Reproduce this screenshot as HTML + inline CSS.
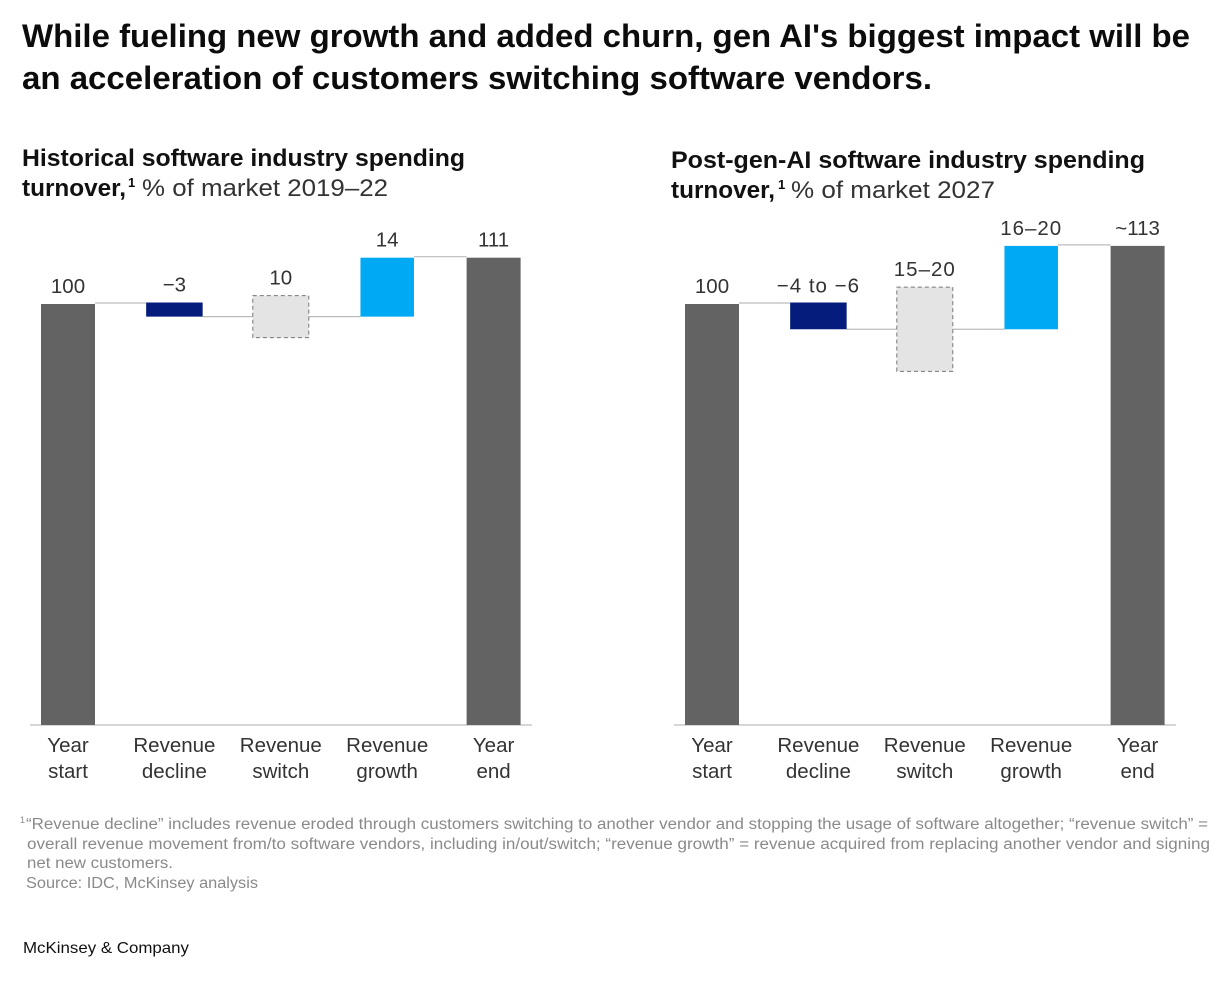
<!DOCTYPE html>
<html lang="en">
<head>
<meta charset="utf-8">
<title>Software spending turnover</title>
<style>
html,body{margin:0;padding:0;background:#fff;}
body{width:1226px;height:984px;overflow:hidden;}
svg{display:block;font-family:"Liberation Sans",sans-serif;}
.title{font-size:32px;font-weight:700;fill:#0c0c0c;}
.sub{font-size:24px;font-weight:700;fill:#111;}
.subreg{font-size:24px;fill:#333;}
.sup{font-size:13px;font-weight:700;fill:#0a0a0a;}
.val{font-size:20.5px;fill:#333;text-anchor:middle;}
.val.wide{letter-spacing:1px;}
.cat{font-size:20.5px;fill:#333;text-anchor:middle;}
.foot{font-size:15.5px;fill:#8a8a8a;}
.brand{font-size:16px;fill:#111;}
</style>
</head>
<body>
<svg id="root" width="1226" height="984" viewBox="0 0 1226 984">
<rect width="1226" height="984" fill="#fff"/>
<text class="title" x="22" y="47" textLength="1168" lengthAdjust="spacingAndGlyphs">While fueling new growth and added churn, gen AI's biggest impact will be</text>
<text class="title" x="22" y="89" textLength="910" lengthAdjust="spacingAndGlyphs">an acceleration of customers switching software vendors.</text>

<text class="sub" x="22" y="166" textLength="443" lengthAdjust="spacingAndGlyphs">Historical software industry spending</text>
<text class="sub" x="22" y="196" textLength="104" lengthAdjust="spacingAndGlyphs">turnover,</text>
<text class="sup" x="128" y="187">1</text>
<text class="subreg" x="142" y="196" textLength="246" lengthAdjust="spacingAndGlyphs">% of market 2019–22</text>

<text class="sub" x="671" y="168" textLength="474" lengthAdjust="spacingAndGlyphs">Post-gen-AI software industry spending</text>
<text class="sub" x="671" y="198" textLength="104" lengthAdjust="spacingAndGlyphs">turnover,</text>
<text class="sup" x="778" y="189">1</text>
<text class="subreg" x="791" y="198" textLength="204" lengthAdjust="spacingAndGlyphs">% of market 2027</text>

<g id="left-chart"></g>
<g id="right-chart"></g>

<text x="20" y="823" font-size="9" fill="#8a8a8a">1</text>
<text class="foot" x="26" y="829" textLength="1182" lengthAdjust="spacingAndGlyphs">“Revenue decline” includes revenue eroded through customers switching to another vendor and stopping the usage of software altogether; “revenue switch” =</text>
<text class="foot" x="27" y="849" textLength="1183" lengthAdjust="spacingAndGlyphs">overall revenue movement from/to software vendors, including in/out/switch; “revenue growth” = revenue acquired from replacing another vendor and signing</text>
<text class="foot" x="27" y="868" textLength="146" lengthAdjust="spacingAndGlyphs">net new customers.</text>
<text class="foot" x="26" y="888" textLength="232" lengthAdjust="spacingAndGlyphs">Source: IDC, McKinsey analysis</text>
<text class="brand" x="23" y="953" textLength="166" lengthAdjust="spacingAndGlyphs">McKinsey &amp; Company</text>
</svg>
<script>
var categoriesTop = ['Year', 'Revenue', 'Revenue', 'Revenue', 'Year'];
var categoriesBottom = ['start', 'decline', 'switch', 'growth', 'end'];
var leftValues = [100, -3, 10, 14, 111];
var rightValues = [100, -6, 20, 19.8, 113.8];
var leftLabels = ['100', '−3', '10', '14', '111'];
var rightLabels = ['100', '−4 to −6', '15–20', '16–20', '~113'];

var NS = 'http://www.w3.org/2000/svg';
var BASE_Y = 725;
var UNIT = 4.21;
var STEP = 106.4;
var COL_W = [54, 56.5, 56, 53.5, 54];

function yScale(v) { return BASE_Y - v * UNIT; }
function xScale(i, x0) { return x0 + i * STEP; }

function addLine(g, x1, y1, x2, y2, color) {
  var l = document.createElementNS(NS, 'line');
  l.setAttribute('x1', x1);
  l.setAttribute('y1', y1);
  l.setAttribute('x2', x2);
  l.setAttribute('y2', y2);
  l.setAttribute('stroke', color);
  l.setAttribute('stroke-width', 1.2);
  g.appendChild(l);
  return l;
}

function addText(g, cls, x, y, str) {
  var t = document.createElementNS(NS, 'text');
  t.setAttribute('class', cls);
  t.setAttribute('x', x);
  t.setAttribute('y', y);
  t.textContent = str;
  g.appendChild(t);
  return t;
}

function drawChart(id, values, labels, x0) {
  var g = document.getElementById(id);
  var start = values[0], decline = values[1], sw = values[2], growth = values[3], end = values[4];
  var afterDecline = start + decline;
  var tops = [start, start, afterDecline + sw / 2, afterDecline + growth, end];
  var bottoms = [0, afterDecline, afterDecline - sw / 2, afterDecline, 0];
  var fills = ['#636363', '#051c7c', '#e4e4e4', '#00a9f4', '#636363'];

  var axis = addLine(g, x0 - 38, BASE_Y, x0 + 464, BASE_Y, '#bdbdbd');
  
  

  var connectorLevels = [start, afterDecline, afterDecline, end];
  connectorLevels.forEach(function (lvl, i) {
    var xa = xScale(i, x0) + COL_W[i] / 2;
    var xb = xScale(i + 1, x0) - COL_W[i + 1] / 2;
    var c = addLine(g, xa, yScale(lvl) - (i === 0 || i === 3 ? 1 : 0), xb, yScale(lvl) - (i === 0 || i === 3 ? 1 : 0), '#bcbcbc');
    
    
  });

  values.forEach(function (v, i) {
    var cx = xScale(i, x0);
    var w = COL_W[i];
    var lift = i === 1 ? 1.5 : 0;
    var yTop = yScale(tops[i]) - lift;
    var yBot = yScale(bottoms[i]);
    var r = document.createElementNS(NS, 'rect');
    r.setAttribute('x', cx - w / 2);
    r.setAttribute('y', yTop);
    r.setAttribute('width', w);
    r.setAttribute('height', yBot - yTop);
    r.setAttribute('fill', fills[i]);
    if (i === 2) {
      r.setAttribute('stroke', '#777');
      r.setAttribute('stroke-width', 1);
      r.setAttribute('stroke-dasharray', '4 3');
    }
    
    
    g.appendChild(r);

    var isRange = labels[i].length > 4;
    var vt = addText(g, isRange ? 'val wide' : 'val', cx, yTop - 11 + (i === 1 && isRange ? 1 : 0), labels[i]);
    
    

    var c1 = addText(g, 'cat', cx, 752, categoriesTop[i]);
    
    

    var c2 = addText(g, 'cat', cx, 778, categoriesBottom[i]);
    
    
  });
}

drawChart('left-chart', leftValues, leftLabels, 68);
drawChart('right-chart', rightValues, rightLabels, 712);
</script>
</body>
</html>
